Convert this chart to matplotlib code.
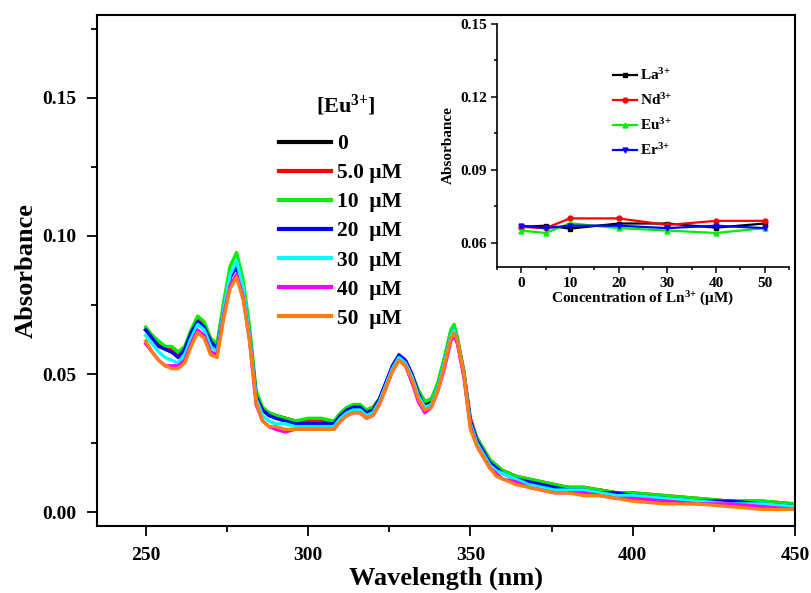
import matplotlib
matplotlib.use("Agg")
import matplotlib.pyplot as plt
from matplotlib.ticker import MultipleLocator, FormatStrFormatter

plt.rcParams['font.family'] = ['Liberation Serif', 'DejaVu Serif']
plt.rcParams['font.weight'] = 'bold'
plt.rcParams['axes.labelweight'] = 'bold'
plt.rcParams['mathtext.default'] = 'regular'

# UV-vis spectra at increasing [Eu3+]
wl = [250, 252, 254, 256, 258, 260, 262, 264, 266, 268, 270, 272, 274, 276, 278, 280,
      282, 284, 286, 288, 290, 293, 296, 300, 304, 308, 310, 312, 314, 316, 318, 320,
      322, 324, 326, 328, 330, 332, 334, 336, 338, 340, 342, 344, 345, 346, 348, 350,
      352, 354, 356, 358, 360, 364, 368, 372, 376, 380, 385, 390, 395, 400, 410, 420,
      430, 440, 450]

a_0 = [.066, .063, .061, .059, .058, .057, .059, .065, .069, .067, .062, .060, .074, .085, .089, .080,
       .065, .042, .037, .035, .035, .034, .033, .033, .033, .033, .035, .037, .038, .038, .036, .037,
       .040, .046, .052, .056, .054, .049, .043, .039, .040, .046, .055, .065, .066, .062, .050, .032,
       .026, .022, .018, .016, .015, .013, .011, .010, .009, .009, .008, .008, .007, .006, .005, .004,
       .004, .003, .002]
a_5 = [.066, .064, .061, .060, .059, .057, .059, .065, .070, .068, .062, .060, .074, .086, .090, .081,
       .065, .043, .037, .036, .035, .034, .033, .033, .033, .033, .035, .037, .038, .038, .037, .038,
       .041, .046, .052, .056, .055, .050, .044, .040, .041, .046, .055, .065, .067, .063, .051, .034,
       .027, .023, .019, .017, .015, .013, .012, .011, .010, .009, .009, .008, .007, .007, .006, .005,
       .004, .004, .003]
a_10 = [.067, .064, .062, .060, .060, .058, .060, .066, .071, .069, .063, .061, .076, .089, .094, .084,
        .067, .044, .038, .036, .035, .034, .033, .034, .034, .033, .036, .038, .039, .039, .037, .038,
        .041, .047, .053, .056, .054, .050, .044, .040, .041, .047, .056, .066, .068, .063, .051, .033,
        .027, .023, .019, .017, .015, .013, .012, .011, .010, .009, .009, .008, .007, .007, .006, .005,
        .004, .004, .003]
a_20 = [.066, .063, .060, .059, .058, .056, .059, .065, .069, .067, .062, .059, .073, .085, .089, .080,
        .064, .042, .037, .035, .034, .033, .032, .032, .032, .032, .035, .037, .038, .038, .036, .037,
        .041, .047, .053, .057, .055, .050, .043, .038, .039, .045, .054, .064, .066, .062, .050, .033,
        .026, .022, .018, .016, .014, .012, .011, .010, .009, .008, .008, .007, .007, .006, .005, .004,
        .004, .003, .002]
a_30 = [.064, .061, .058, .056, .055, .054, .057, .063, .068, .066, .060, .058, .073, .086, .091, .081,
        .064, .041, .035, .033, .032, .032, .031, .031, .031, .031, .034, .036, .037, .037, .035, .036,
        .040, .046, .052, .056, .054, .049, .042, .038, .039, .045, .054, .064, .066, .062, .050, .032,
        .025, .021, .017, .015, .014, .012, .010, .009, .008, .008, .008, .007, .006, .006, .005, .004,
        .003, .003, .002]
a_40 = [.061, .058, .055, .053, .053, .053, .055, .061, .066, .064, .058, .057, .071, .082, .086, .078,
        .062, .039, .033, .031, .030, .029, .030, .030, .030, .030, .033, .035, .036, .036, .034, .035,
        .039, .045, .051, .055, .053, .047, .040, .036, .038, .044, .052, .062, .064, .061, .049, .031,
        .024, .020, .016, .014, .012, .011, .009, .008, .007, .007, .007, .006, .005, .005, .004, .003,
        .003, .002, .001]
a_50 = [.062, .058, .055, .053, .052, .052, .054, .060, .065, .063, .057, .056, .070, .081, .085, .077,
        .062, .040, .033, .031, .031, .030, .030, .030, .030, .030, .033, .035, .036, .036, .034, .035,
        .039, .045, .051, .055, .053, .048, .041, .037, .038, .044, .053, .063, .065, .062, .050, .030,
        .024, .020, .016, .013, .012, .010, .009, .008, .007, .007, .006, .006, .005, .004, .003, .003,
        .002, .001, .001]

labels = ['0', '5.0 \u03bcM', '10  \u03bcM', '20  \u03bcM', '30  \u03bcM', '40  \u03bcM', '50  \u03bcM']
colors = ['black', '#ff0000', '#00ee00', '#0000ff', '#00ffff', '#ff00ff', '#ff7f0e']
spectra = [a_0, a_5, a_10, a_20, a_30, a_40, a_50]

# inset: absorbance vs concentration of Ln3+
conc = [0, 5, 10, 20, 30, 40, 50]
la = [0.0665, 0.0670, 0.0658, 0.0679, 0.0679, 0.0662, 0.0679]
nd = [0.0665, 0.0660, 0.0700, 0.0700, 0.0673, 0.0690, 0.0690]
eu = [0.0650, 0.0640, 0.0680, 0.0660, 0.0650, 0.0640, 0.0660]
er = [0.0670, 0.0660, 0.0670, 0.0670, 0.0660, 0.0670, 0.0660]

fig = plt.figure(figsize=(8.11, 5.93), dpi=100)
ax = fig.add_axes([97 / 811, 1 - 526 / 593, 698 / 811, 511 / 593])

for y, c, lab in zip(spectra, colors, labels):
    ax.plot(wl, y, color=c, lw=2.4, label=lab)

ax.set_xlim(235, 450)
ax.set_ylim(-0.005, 0.18)
ax.xaxis.set_major_locator(MultipleLocator(50))
ax.xaxis.set_minor_locator(MultipleLocator(25))
ax.yaxis.set_major_locator(MultipleLocator(0.05))
ax.yaxis.set_minor_locator(MultipleLocator(0.025))
ax.yaxis.set_major_formatter(FormatStrFormatter('%.2f'))
ax.tick_params(which='major', direction='out', length=7, width=1.3, labelsize=14, pad=8)
ax.tick_params(which='minor', direction='out', length=4, width=1.3)
for s in ax.spines.values():
    s.set_linewidth(1.5)
ax.set_xlabel('Wavelength (nm)', fontsize=19, labelpad=2)
ax.set_ylabel('Absorbance', fontsize=19, labelpad=3)

fig.text(346 / 811, 1 - 105 / 593, '[Eu$^{3{+}}$]', fontsize=16, ha='center', va='center')
leg = ax.legend(loc='upper left', bbox_to_anchor=(279 / 811, 1 - 134 / 593),
                bbox_transform=fig.transFigure, frameon=False, fontsize=15.5,
                handlelength=2.4, handletextpad=0.3, labelspacing=0.42,
                borderpad=0, borderaxespad=0)
for h in leg.get_lines():
    h.set_linewidth(3)

# inset
ins = fig.add_axes([497 / 811, 1 - 267 / 593, 292 / 811, 243 / 593])
ins.plot(conc, la, '-s', color='black', lw=1.6, ms=3.5, label='La$^{3{+}}$')
ins.plot(conc, nd, '-o', color='#ff0000', lw=1.6, ms=3.5, label='Nd$^{3{+}}$')
ins.plot(conc, eu, '-^', color='#00ee00', lw=1.6, ms=3.5, label='Eu$^{3{+}}$')
ins.plot(conc, er, '-v', color='#0000ff', lw=1.6, ms=3.5, label='Er$^{3{+}}$')
ins.set_xlim(-5, 55)
ins.set_ylim(0.05, 0.15)
ins.xaxis.set_major_locator(MultipleLocator(10))
ins.xaxis.set_minor_locator(MultipleLocator(5))
ins.yaxis.set_minor_locator(MultipleLocator(0.015))
ins.set_yticks([0.06, 0.09, 0.12, 0.15])
ins.yaxis.set_major_formatter(FormatStrFormatter('%.2f'))
ins.spines['top'].set_visible(False)
ins.spines['right'].set_visible(False)
ins.patch.set_alpha(0)
for s in ins.spines.values():
    s.set_linewidth(1.2)
ins.tick_params(which='major', direction='out', length=4, width=1.1, labelsize=11, pad=3)
ins.tick_params(which='minor', direction='out', length=2.5, width=1.1)
ins.set_xlabel('Concentration of Ln$^{3{+}}$ (\u03bcM)', fontsize=11, labelpad=0)
ins.set_ylabel('Absorbance', fontsize=11, labelpad=4)
ins.legend(loc='upper left', bbox_to_anchor=(613 / 811, 1 - 67 / 593),
           bbox_transform=fig.transFigure, frameon=False, fontsize=11,
           handlelength=1.6, handletextpad=0.2, labelspacing=0.6,
           borderpad=0, borderaxespad=0)

fig.savefig('out.png', dpi=100)
